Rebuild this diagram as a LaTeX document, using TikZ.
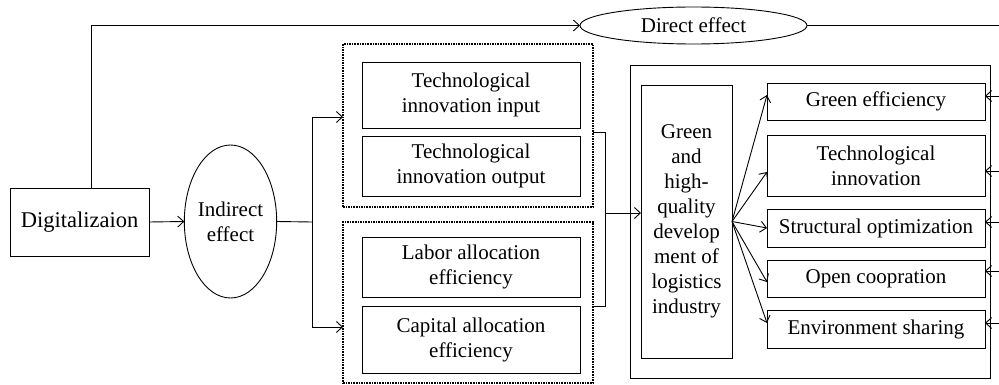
\documentclass[tikz,border=0pt]{standalone}
\usepackage{fontspec}
\setmainfont{Liberation Serif}
\usetikzlibrary{shapes.geometric,arrows.meta,positioning}

\begin{document}
\begin{tikzpicture}[x=1pt,y=-1pt,line width=0.9pt,
		box/.style={draw,rectangle,outer sep=0pt,align=center},
		ell/.style={draw,ellipse,outer sep=0pt,inner sep=0pt,align=center},
		grp/.style={draw,rectangle,densely dotted,line width=1.6pt,outer sep=0pt},
		arr/.style={-{Straight Barb[length=6pt,width=11pt]}},
		font=\fontsize{21pt}{25pt}\selectfont
		]
		\useasboundingbox (0,0) rectangle (999,385);
		% left part
		\node (dig) [box,minimum width=139,minimum height=68,font=\fontsize{22.5pt}{27pt}\selectfont] at (79.5,222) {Digitalizaion};
		\node (ind) [ell,minimum width=91,minimum height=153] at (230.5,221.5) {Indirect\\effect};
		\node (dir) [ell,minimum width=227,minimum height=37] at (693.5,25.5) {Direct effect};
		% mechanism groups
		\node (grp1) [grp,minimum width=250,minimum height=163] at (468,125.5) {};
		\node (grp2) [grp,minimum width=250,minimum height=161] at (468,302.5) {};
		\node (tin) [box,minimum width=218,minimum height=66] at (471,95) {Technological\\innovation input};
		\node (tout) [box,minimum width=218,minimum height=60] at (471,166) {Technological\\innovation output};
		\node (lab) [box,minimum width=218,minimum height=60] at (471,267) {Labor allocation\\efficiency};
		\node (cap) [box,minimum width=218,minimum height=67] at (471,339.5) {Capital allocation\\efficiency};
		% outcome part
		\node (outer) [box,minimum width=360,minimum height=313] at (810,221.5) {};
		\node (ghq) [box,minimum width=91,minimum height=273,inner sep=0pt] at (686.5,221.5) {Green\\and\\high-\\quality\\develop\\ment of\\logistics\\industry};
		\node (ge) [box,minimum width=218,minimum height=37] at (876,101.5) {Green efficiency};
		\node (ti) [box,minimum width=218,minimum height=61] at (876,165.5) {Technological\\innovation};
		\node (so) [box,minimum width=218,minimum height=38] at (876,228) {Structural optimization};
		\node (oc) [box,minimum width=218,minimum height=37] at (876,278.5) {Open coopration};
		\node (es) [box,minimum width=218,minimum height=38] at (876,329) {Environment sharing};
		% junctions
		\coordinate (s1) at (312,222);
		\coordinate (m1) at (605,132);
		\coordinate (m2) at (605,306);
		\coordinate (tr) at (999,25.5);
		% connectors
		\draw[arr] ([xshift=11.5pt]dig.north) |- (dir.west);
		\draw (dir.east) -- (tr);
		\draw[arr] (dig.east) -- (ind.west);
		\draw (ind.east) -- (s1);
		\draw[arr] (s1) |- (grp1.west |- 0,117);
		\draw[arr] (s1) |- (grp2.west |- 0,327);
		\draw (grp1.east |- m1) -- (m1) -- (m2) -- (grp2.east |- m2);
		\draw[arr] (m1 |- 0,213) -- (ghq.west |- 0,213);
		\foreach \n/\y in {ge/95,ti/172,so/228,oc/282,es/323}
			\draw[arr] (ghq.east) -- (\n.west |- 0,\y);
		\foreach \n/\y in {ge/96,ti/171,so/222,oc/271,es/323}{
			\coordinate (r\n) at (999,\y);
			\draw[arr] (r\n) -- (\n.east |- r\n);
		}
\end{tikzpicture}
\end{document}
